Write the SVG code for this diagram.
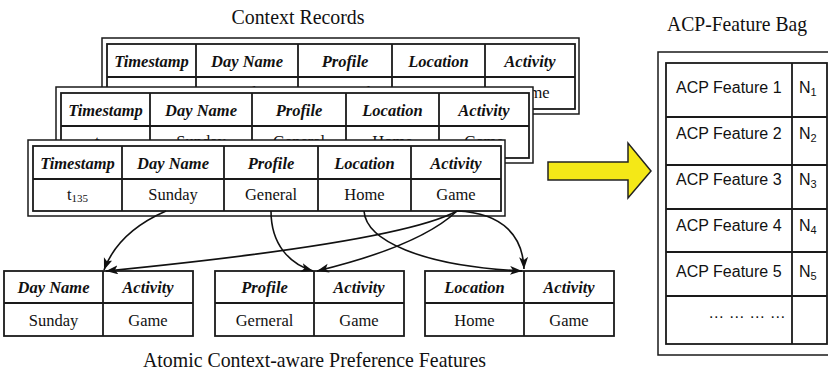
<svg xmlns="http://www.w3.org/2000/svg" xmlns:xlink="http://www.w3.org/1999/xlink" width="828" height="377" viewBox="0 0 828 377">
  <style>
    .frame { fill: #fff; stroke: #1a1a1a; stroke-width: 1.5; }
    .grid { fill: none; stroke: #1a1a1a; stroke-width: 1.8; }
    .hd { font-family: "Liberation Serif", "Times New Roman", serif; font-size: 16.5px; font-weight: bold; font-style: italic; fill: #111; text-anchor: middle; }
    .dt { font-family: "Liberation Serif", "Times New Roman", serif; font-size: 16.5px; fill: #111; text-anchor: middle; }
    .title { font-family: "Liberation Serif", "Times New Roman", serif; font-size: 22px; fill: #111; text-anchor: middle; }
    .acp { font-family: "Liberation Sans", Arial, sans-serif; font-size: 16px; fill: #111; }
    .sub { font-size: 11px; }
    .link { fill: none; stroke: #111; stroke-width: 1.6; marker-end: url(#tip); }
  </style>
  <defs>
    <marker id="tip" markerUnits="userSpaceOnUse" markerWidth="13" markerHeight="10" refX="12" refY="4.5" orient="auto">
      <path d="M0,0 L12,4.5 L0,9 L3,4.5 z" fill="#111"/>
    </marker>
    <!-- one context record: double-line frame with a header row and a value row -->
    <g id="record">
      <rect class="frame" x="0" y="0" width="477" height="76"/>
      <rect class="grid" x="5" y="6" width="468" height="65"/>
      <path class="grid" d="M5,39 H473 M94,6 V71 M196,6 V71 M290,6 V71 M383,6 V71"/>
      <text class="hd" x="49.5" y="28.5">Timestamp</text>
      <text class="hd" x="145" y="28.5">Day Name</text>
      <text class="hd" x="243" y="28.5">Profile</text>
      <text class="hd" x="336.5" y="28.5">Location</text>
      <text class="hd" x="428" y="28.5">Activity</text>
      <text class="dt" x="49.5" y="60">t<tspan class="sub" dy="2">135</tspan></text>
      <text class="dt" x="145" y="60">Sunday</text>
      <text class="dt" x="243" y="60">General</text>
      <text class="dt" x="336.5" y="60">Home</text>
      <text class="dt" x="428" y="60">Game</text>
    </g>
  </defs>

  <rect width="828" height="377" fill="#fff"/>

  <text class="title" x="298" y="24" textLength="133" lengthAdjust="spacingAndGlyphs">Context Records</text>

  <!-- stacked context records, back to front -->
  <g id="record-back"><use xlink:href="#record" transform="translate(102,38)"/></g>
  <g id="record-middle"><use xlink:href="#record" transform="translate(56,87)"/></g>
  <g id="record-front"><use xlink:href="#record" transform="translate(28,140)"/></g>

  <!-- atomic context-aware preference features -->
  <g id="feature-day">
    <rect class="grid" x="4" y="271" width="189" height="65"/>
    <path class="grid" d="M4,303 H193 M103,271 V336"/>
    <text class="hd" x="53.5" y="293">Day Name</text>
    <text class="hd" x="148" y="293">Activity</text>
    <text class="dt" x="53.5" y="326">Sunday</text>
    <text class="dt" x="148" y="326">Game</text>
  </g>
  <g id="feature-profile">
    <rect class="grid" x="215" y="271" width="189" height="65"/>
    <path class="grid" d="M215,303 H404 M314,271 V336"/>
    <text class="hd" x="264.5" y="293">Profile</text>
    <text class="hd" x="359" y="293">Activity</text>
    <text class="dt" x="264.5" y="326">Gerneral</text>
    <text class="dt" x="359" y="326">Game</text>
  </g>
  <g id="feature-location">
    <rect class="grid" x="425" y="271" width="189" height="65"/>
    <path class="grid" d="M425,303 H614 M524,271 V336"/>
    <text class="hd" x="474.5" y="293">Location</text>
    <text class="hd" x="569" y="293">Activity</text>
    <text class="dt" x="474.5" y="326">Home</text>
    <text class="dt" x="569" y="326">Game</text>
  </g>

  <text class="title" x="314.5" y="367" textLength="343" lengthAdjust="spacingAndGlyphs">Atomic Context-aware Preference Features</text>

  <!-- connectors from record fields to the feature tables -->
  <g id="connectors">
    <path class="link" d="M166,211 Q118,232 104,270"/>
    <path class="link" d="M457,211 Q400,242 106,271"/>
    <path class="link" d="M271,211 C271,245 290,264 313,271"/>
    <path class="link" d="M457,211 Q420,246 317,271"/>
    <path class="link" d="M364,211 C366,240 420,266 522,271"/>
    <path class="link" d="M457,211 C505,213 523,238 524,269"/>
  </g>

  <!-- block arrow into the bag -->
  <g id="to-bag">
    <polygon points="548,162 628,162 628,143 651,171 628,198 628,180 548,180" fill="#f4e817" stroke="#222" stroke-width="1.5" stroke-linejoin="miter"/>
  </g>

  <!-- ACP-feature bag -->
  <g id="feature-bag">
    <text class="title" x="737" y="31" textLength="140" lengthAdjust="spacingAndGlyphs">ACP-Feature Bag</text>
    <rect class="frame" x="658" y="52" width="180" height="303"/>
    <rect class="grid" x="666" y="63" width="161" height="281"/>
    <path class="grid" d="M666,117 H827 M666,165 H827 M666,209 H827 M666,252 H827 M666,296 H827 M792,63 V344"/>
    <text class="acp" x="676" y="93">ACP Feature 1</text>
    <text class="acp" x="676" y="139">ACP Feature 2</text>
    <text class="acp" x="676" y="185">ACP Feature 3</text>
    <text class="acp" x="676" y="231">ACP Feature 4</text>
    <text class="acp" x="676" y="277">ACP Feature 5</text>
    <text class="acp" x="799" y="93">N<tspan class="sub" dy="3">1</tspan></text>
    <text class="acp" x="799" y="139">N<tspan class="sub" dy="3">2</tspan></text>
    <text class="acp" x="799" y="185">N<tspan class="sub" dy="3">3</tspan></text>
    <text class="acp" x="799" y="231">N<tspan class="sub" dy="3">4</tspan></text>
    <text class="acp" x="799" y="277">N<tspan class="sub" dy="3">5</tspan></text>
    <text class="acp" x="747" y="318" text-anchor="middle">… … … …</text>
  </g>
</svg>
